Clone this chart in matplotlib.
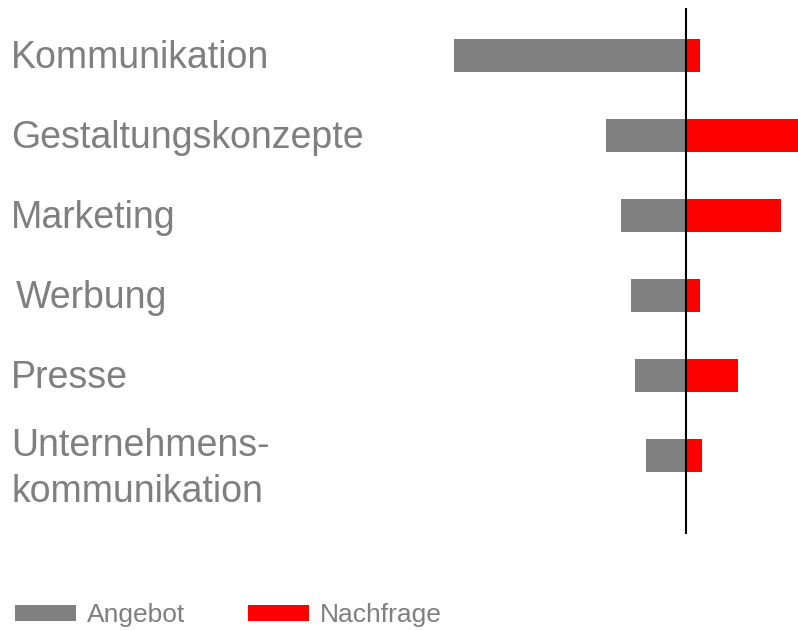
import matplotlib.pyplot as plt
from matplotlib.transforms import blended_transform_factory

plt.rcParams["font.family"] = ["Liberation Sans", "DejaVu Sans"]

# Data
categories = ["Kommunikation", "Gestaltungskonzepte", "Marketing", "Werbung",
              "Presse", "Unternehmens-\nkommunikation"]
angebot = [46.3, 15.9, 12.9, 10.9, 10.1, 7.9]
nachfrage = [2.9, 22.4, 19.0, 2.9, 10.4, 3.3]

GREY = "#808080"
RED = "#ff0000"
TEXT = "#7f7f7f"

fig = plt.figure(figsize=(7.98, 6.3), dpi=100)
ax = fig.add_axes([0, 96 / 630, 1, 526 / 630])

pos = list(range(len(categories)))
ax.barh(pos, [-a for a in angebot], height=0.41, color=GREY, label="Angebot")
ax.barh(pos, nachfrage, height=0.41, color=RED, label="Nachfrage")
ax.axvline(0, color="black", lw=1.5)

ax.set_xlim(-137.1, 22.46)
ax.set_ylim(5.976, -0.59)
ax.axis("off")

# Category labels on the left
trans = blended_transform_factory(fig.transFigure, ax.transData)
for i, label in enumerate(categories):
    x = 16 / 798 if label == "Werbung" else 11 / 798
    lines = label.split("\n")
    if len(lines) == 1:
        ax.text(x, i + 12.4 / 80.1, label, transform=trans, fontsize=27,
                color=TEXT, va="baseline", ha="left")
    else:
        for j, line in enumerate(lines):
            ax.text(x, i + j * 46 / 80.1, line, transform=trans, fontsize=27,
                    color=TEXT, va="baseline", ha="left")

fig.legend(loc="lower left", bbox_to_anchor=(15 / 798, 3 / 630), ncol=2,
           frameon=False, fontsize=19, labelcolor=TEXT, handlelength=2.3,
           handleheight=0.57, handletextpad=0.42, columnspacing=2.4,
           borderpad=0, borderaxespad=0)

fig.savefig("out.png", dpi=100)
